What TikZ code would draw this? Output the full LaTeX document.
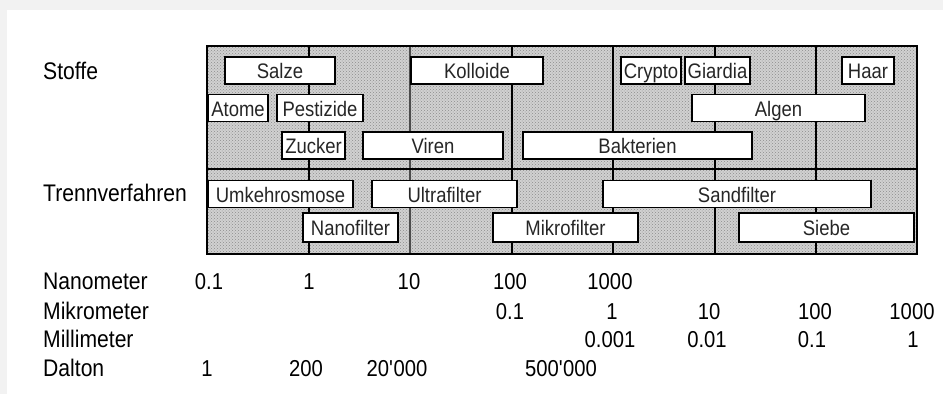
\documentclass[tikz,border=0pt]{standalone}
\usepackage{fontspec}
\setmainfont[FakeStretch=0.88]{Liberation Sans}
\usepackage{tikz}
\usetikzlibrary{patterns}

\begin{document}
\begin{tikzpicture}[
    x=1pt, y=-1pt,
    % row and axis labels at the left
    rowlabel/.style={anchor=west, inner sep=0pt, text height=17pt, text depth=0pt,
                     font=\fontsize{24}{24}\selectfont},
    % scale values below the grid
    scaleval/.style={inner sep=0pt, text height=16.5pt, text depth=0pt,
                     font=\fontsize{23}{23}\selectfont},
    % white size range boxes
    sizebox/.style={draw=black, line width=1.4pt, fill=white, inner sep=0pt,
                  minimum height=27pt, text height=16pt, text depth=0pt,
                  text=black!85, font=\fontsize{21}{21}\selectfont},
    gridline/.style={line width=1.3pt, black}
]

% page margins
\fill[black!5] (0,0) rectangle (943,394);
\fill[white] (7,10) rectangle (943,394);
\useasboundingbox (0,0) rectangle (943,394);

% shaded grid
\fill[black!18] (207,46) rectangle (917,254);
\fill[pattern=crosshatch dots, pattern color=black!45] (207,46) rectangle (917,254);
\foreach \gx in {309,512,613,715,816}
    \draw[gridline] (\gx,46) -- (\gx,254);
\draw[line width=2.4pt, black!70] (410,46) -- (410,254);
\draw[gridline] (207,169) -- (917,169);
\draw[line width=1.8pt] (207,46) rectangle (917,254);

% row labels
\node[rowlabel] (stoffe) at (43,71) {Stoffe};
\node[rowlabel] (trenn) at (43,193) {Trennverfahren};

% Stoffe
\node[sizebox, minimum width=110pt] (salze)     at (280,70.5)   {Salze};
\node[sizebox, minimum width=132pt] (kolloide)  at (477,70.5)   {Kolloide};
\node[sizebox, minimum width=60pt]  (crypto)    at (651,70.5)   {Crypto};
\node[sizebox, minimum width=65pt]  (giardia)   at (717.5,70.5) {Giardia};
\node[sizebox, minimum width=52pt]  (haar)      at (868,70.5)   {Haar};
\node[sizebox, minimum width=60pt]  (atome)     at (238,108)    {Atome};
\node[sizebox, minimum width=86pt]  (pestizide) at (320,108)    {Pestizide};
\node[sizebox, minimum width=173pt] (algen)     at (778.5,108)  {Algen};
\node[sizebox, minimum width=63pt]  (zucker)    at (313.5,145.5) {Zucker};
\node[sizebox, minimum width=140pt] (viren)     at (433,145.5)  {Viren};
\node[sizebox, minimum width=229pt] (bakterien) at (637.5,145.5) {Bakterien};

% Trennverfahren
\node[sizebox, minimum width=145pt] (umkehr)    at (280.5,194)  {Umkehrosmose};
\node[sizebox, minimum width=145pt] (ultra)     at (444.5,194)  {Ultrafilter};
\node[sizebox, minimum width=268pt] (sand)      at (737,194)    {Sandfilter};
\node[sizebox, minimum width=95pt, minimum height=29pt] (nano)  at (350.5,227.5) {Nanofilter};
\node[sizebox, minimum width=145pt, minimum height=29pt] (mikro) at (565.5,227.5) {Mikrofilter};
\node[sizebox, minimum width=175pt, minimum height=29pt] (siebe) at (826.5,227.5) {Siebe};

% scales
\node[rowlabel] (nm) at (43,281) {Nanometer};
\node[rowlabel] (um) at (43,311) {Mikrometer};
\node[rowlabel] (mm) at (43,339) {Millimeter};
\node[rowlabel] (da) at (43,368) {Dalton};

\foreach \vx/\vt [count=\i] in {209/0.1, 309/1, 409/10, 510/100, 610/1000}
    \node[scaleval] (nm\i) at (\vx,281) {\vt};
\foreach \vx/\vt [count=\i] in {510/0.1, 612/1, 709/10, 815/100, 912/1000}
    \node[scaleval] (um\i) at (\vx,311) {\vt};
\foreach \vx/\vt [count=\i] in {610/0.001, 707/0.01, 812/0.1, 913/1}
    \node[scaleval] (mm\i) at (\vx,339) {\vt};
\foreach \vx/\vt [count=\i] in {207/1, 306/200, 397/20\textquotesingle000, 561/500\textquotesingle000}
    \node[scaleval] (da\i) at (\vx,368) {\vt};

\end{tikzpicture}
\end{document}
